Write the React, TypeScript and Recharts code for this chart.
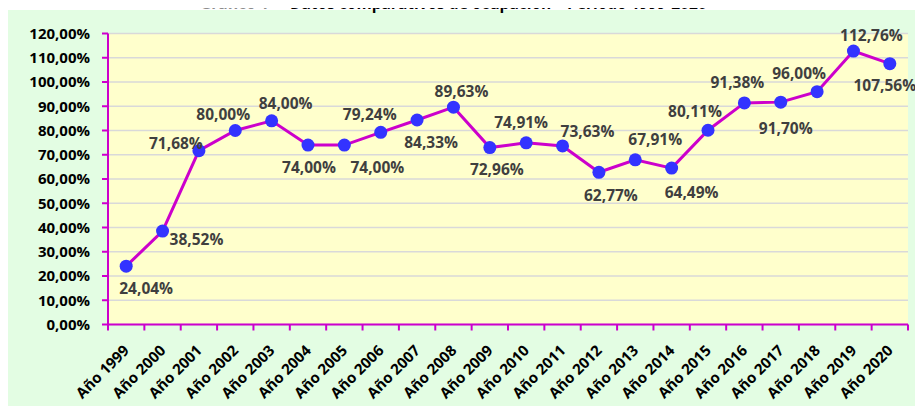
import { LineChart, Line, XAxis, YAxis, CartesianGrid, LabelList } from 'recharts'

const categories = [
  'Año 1999', 'Año 2000', 'Año 2001', 'Año 2002', 'Año 2003', 'Año 2004', 'Año 2005', 'Año 2006',
  'Año 2007', 'Año 2008', 'Año 2009', 'Año 2010', 'Año 2011', 'Año 2012', 'Año 2013', 'Año 2014',
  'Año 2015', 'Año 2016', 'Año 2017', 'Año 2018', 'Año 2019', 'Año 2020',
]
const occupancy = [
  24.04, 38.52, 71.68, 80.0, 84.0, 74.0, 74.0, 79.24, 84.33, 89.63, 72.96, 74.91, 73.63, 62.77,
  67.91, 64.49, 80.11, 91.38, 91.7, 96.0, 112.76, 107.56,
]
const yTicks = [0, 10, 20, 30, 40, 50, 60, 70, 80, 90, 100, 110, 120]
const titleLead = 'Gráfico 1 – '
const titleMain = 'Datos comparativos de ocupación – Periodo 1999-2020'

// where each data label sits relative to its point (dx, dy)
const labelOffsets: [number, number][] = [
  [20, 22], [34, 8], [-23, -8], [-12, -17], [14, -18], [1, 22], [33, 22], [-11, -18],
  [14, 22], [8, -16], [7, 21], [-5, -21], [25, -15], [12, 23], [20, -21], [20, 24],
  [-13, -19], [-7, -21], [5, 26], [-18, -19], [18, -16], [-5, 21],
]

const data = categories.map((c, i) => ({ idx: i, name: c, value: occupancy[i] }))
const xTicks = Array.from({ length: categories.length * 2 + 1 }, (_, i) => i / 2 - 0.5)

const MAGENTA = '#CC00CC'
const FONT = '"Open Sans", Lato, sans-serif'
const pct = (v: number) => `${v.toFixed(2).replace('.', ',')}%`

function XTick({ x, y, payload }: any) {
  const v = payload.value as number
  if (!Number.isInteger(v)) {
    return <line x1={x} x2={x} y1={y} y2={y + 6} stroke={MAGENTA} strokeWidth={2} />
  }
  const ax = x + 4
  const ay = y + 27
  return (
    <text x={ax} y={ay} textAnchor="end" transform={`rotate(-45 ${ax} ${ay})`}
      fontFamily={FONT} fontWeight={700} fontSize={15} fill="#000">
      {categories[v]}
    </text>
  )
}

function Dot({ cx, cy }: any) {
  return <circle cx={cx} cy={cy} r={6.5} fill="#3333FF" />
}

function PointLabel({ x, y, value, index }: any) {
  const [dx, dy] = labelOffsets[index] || [0, -18]
  return (
    <text x={x + dx} y={y + dy} textAnchor="middle" dominantBaseline="central"
      fontFamily={FONT} fontWeight={700} fontSize={15.5} fill="#3F3F3F">
      {pct(value)}
    </text>
  )
}

export default function App() {
  return (
    <div style={{ margin: -8, width: 923, height: 414, position: 'relative', overflow: 'hidden', background: '#fff' }}>
      <div style={{ position: 'absolute', top: 10, left: 0, right: 0, bottom: 0, background: '#E3FDE3' }} />
      <svg width={923} height={20} style={{ position: 'absolute', top: 0, left: 0 }}>
        <text y={9} fontFamily={FONT} fontWeight={700} fontSize={15.5}>
          <tspan x={200} fill="#8C8C8C">{titleLead}</tspan>
          <tspan x={290} fill="#000">{titleMain}</tspan>
        </text>
      </svg>
      <div style={{ position: 'absolute', top: 0, left: 0 }}>
        <LineChart width={923} height={414} data={data} margin={{ top: 33.5, right: 15, left: 0, bottom: 0 }}>
          <CartesianGrid horizontal vertical={false} stroke="#D9D9D9" strokeWidth={1.5} fill="#FFFFCC" />
          <XAxis dataKey="idx" type="number" domain={[-0.5, categories.length - 0.5]} ticks={xTicks} interval={0}
            height={89.5} tickLine={false} tickSize={0} tickMargin={0} tick={<XTick />}
            axisLine={{ stroke: MAGENTA, strokeWidth: 2 }} />
          <YAxis domain={[0, 120]} ticks={yTicks} interval={0} width={108} tickFormatter={pct}
            tickSize={6} tickMargin={12} tickLine={{ stroke: MAGENTA, strokeWidth: 2 }}
            axisLine={{ stroke: MAGENTA, strokeWidth: 2 }}
            tick={{ fontFamily: FONT, fontWeight: 700, fontSize: 15, fill: '#000' }} />
          <Line dataKey="value" stroke={MAGENTA} strokeWidth={3} dot={<Dot />} activeDot={false} isAnimationActive={false}>
            <LabelList dataKey="value" content={<PointLabel />} />
          </Line>
        </LineChart>
      </div>
    </div>
  )
}
